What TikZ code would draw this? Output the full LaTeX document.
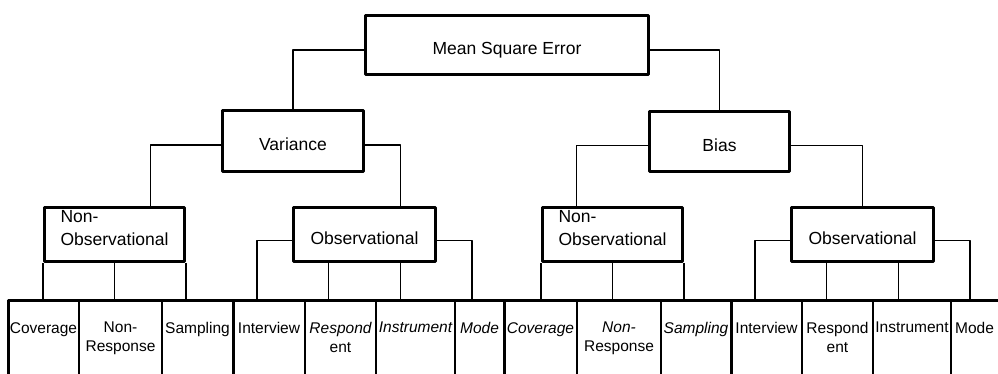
\documentclass[tikz,border=0pt]{standalone}
\usepackage{fontspec}
\setmainfont{Liberation Sans}
\usetikzlibrary{calc}
\begin{document}
\begin{tikzpicture}[x=1pt, y=-1pt, line join=round]
  \tikzset{box/.style={draw, line width=3pt, inner sep=0pt, text height=20pt, text depth=0pt,
      font=\fontsize{17.5}{23}\selectfont},
    twoline/.style={align=left, text height=22pt},
    link/.style={line width=1.4pt},
    cell/.style={anchor=north, inner sep=0pt, align=center, font=\fontsize{15.5}{19}\selectfont},
    thickrule/.style={line width=3pt},
    thinrule/.style={line width=1.3pt}}
  \useasboundingbox (0,0) rectangle (998,374);
  % boxes
  \node[box, minimum width=283, minimum height=59] (mse) at (507,45) {Mean Square Error};
  \node[box, minimum width=141, minimum height=61] (var) at (293,141) {Variance};
  \node[box, minimum width=140, minimum height=60] (bias) at (719.5,141.5) {Bias};
  \node[box, twoline, minimum width=140, minimum height=54] (nobs1) at (114.5,234.5) {Non-\\Observational};
  \node[box, minimum width=142, minimum height=54] (obs1) at (364.5,234.5) {Observational};
  \node[box, twoline, minimum width=140, minimum height=54] (nobs2) at (612.5,234.5) {Non-\\Observational};
  \node[box, minimum width=142, minimum height=54] (obs2) at (862.5,234.5) {Observational};
  \coordinate (base) at (8,300);
  % bottom row
  \foreach \xa/\xb/\txt [count=\i] in {8/79/Coverage, 79/162/{Non-\\Response}, 162/233/Sampling,
      233/305/Interview, 305/376/{{\itshape Respond}\\ent}, 376/455/{\itshape Instrument},
      455/504/{\itshape Mode}, 504/577/{\itshape Coverage}, 577/661/{{\itshape Non-}\\Response},
      661/731/{\itshape Sampling}, 731/802/Interview, 802/873/{Respond\\ent},
      873/951/Instrument, 951/998/Mode}
    \node[cell] (c\i) at ({(\xa+\xb)/2},322) {\txt};
  \draw[thickrule] (998,300) -- (base) -- (8,374);
  \foreach \x in {233,504,731}
    \draw[thickrule] (\x,300) -- (\x,374);
  \foreach \x in {79,162,305,376,455,577,661,802,873,951}
    \draw[thinrule] (\x,300) -- (\x,374);
  % connectors
  \draw[link] ([yshift=-5pt]mse.west) -| (var.north);
  \draw[link] ([yshift=-5pt]mse.east) -| (bias.north);
  \draw[link] ([yshift=-4pt]var.west) -| ($(nobs1.north west)!0.75!(nobs1.north east)$);
  \draw[link] ([yshift=-4pt]var.east) -| ($(obs1.north west)!0.75!(obs1.north east)$);
  \draw[link] ([yshift=-4pt]bias.west) -| ($(nobs2.north west)!0.25!(nobs2.north east)$);
  \draw[link] ([yshift=-4pt]bias.east) -| (obs2.north);
  \foreach \n in {nobs1,nobs2}{
    \draw[link] (\n.south west) -- (\n.south west |- base);
    \draw[link] (\n.south) -- (\n.south |- base);
    \draw[link] (\n.south east) -- (\n.south east |- base);
  }
  \foreach \n in {obs1,obs2}{
    \draw[link] ($(\n.south west)!0.25!(\n.south east)$) coordinate (m) -- (m |- base);
    \draw[link] ($(\n.south west)!0.75!(\n.south east)$) coordinate (m) -- (m |- base);
    \draw[link] ([yshift=-6pt]\n.west) -- ++(-35,0) coordinate (m) -- (m |- base);
    \draw[link] ([yshift=-6pt]\n.east) -- ++(35,0) coordinate (m) -- (m |- base);
  }
\end{tikzpicture}
\end{document}
